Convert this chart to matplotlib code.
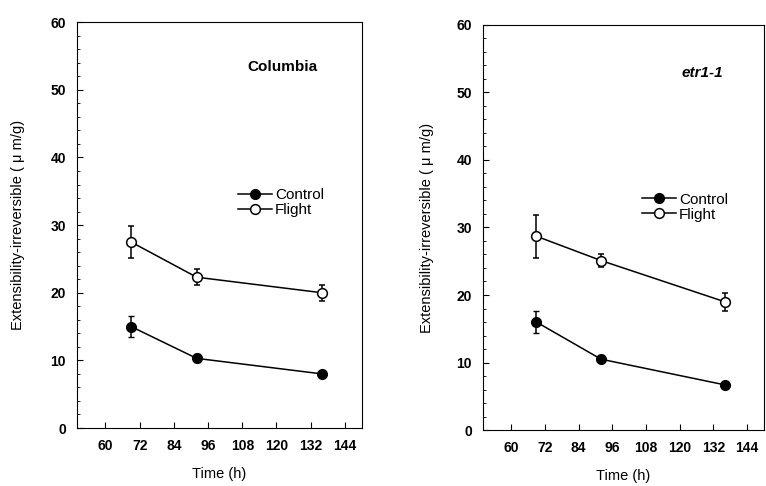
import matplotlib
matplotlib.use("Agg")
import matplotlib.pyplot as plt
from matplotlib.ticker import MultipleLocator

plt.rcParams['font.family'] = ['Liberation Sans', 'DejaVu Sans']

hours = [69, 92, 136]
time_ticks = [60, 72, 84, 96, 108, 120, 132, 144]

# Columbia
col_control = [15.0, 10.3, 8.0]
col_control_err = [1.5, 0.6, 0.3]
col_flight = [27.5, 22.3, 20.0]
col_flight_err = [2.4, 1.2, 1.2]

# etr1-1
etr_control = [16.0, 10.5, 6.7]
etr_control_err = [1.6, 0.4, 0.3]
etr_flight = [28.7, 25.1, 19.0]
etr_flight_err = [3.2, 1.0, 1.3]

panels = [
    ("Columbia", "normal", col_control, col_control_err, col_flight, col_flight_err,
     [0.1005, 0.1193, 0.372, 0.835], (0.72, 0.89), (0.54, 0.555), 18),
    ("etr1-1", "italic", etr_control, etr_control_err, etr_flight, etr_flight_err,
     [0.6305, 0.115, 0.367, 0.834], (0.78, 0.882), (0.54, 0.55), 16),
]

fig = plt.figure(figsize=(7.66, 4.86), dpi=100)

for name, style, ctrl, ctrl_e, fl, fl_e, rect, title_pos, leg_pos, ypad in panels:
    ax = fig.add_axes(rect)
    c = ax.errorbar(hours, ctrl, yerr=ctrl_e, color='black', marker='o', markersize=7,
                    markerfacecolor='black', markeredgecolor='black', lw=1.1,
                    elinewidth=1.1, capsize=2)
    f = ax.errorbar(hours, fl, yerr=fl_e, color='black', marker='o', markersize=7,
                    markerfacecolor='white', markeredgecolor='black', markeredgewidth=1.1,
                    lw=1.1, elinewidth=1.1, capsize=2)
    ax.set_xlim(50, 150)
    ax.set_ylim(0, 60)
    ax.set_xticks(time_ticks)
    ax.yaxis.set_major_locator(MultipleLocator(10))
    ax.yaxis.set_minor_locator(MultipleLocator(2))
    ax.tick_params(axis='both', which='both', direction='in', labelsize=10)
    ax.tick_params(axis='both', which='major', length=4, pad=8)
    ax.tick_params(axis='y', which='minor', length=2)
    for lbl in ax.get_xticklabels() + ax.get_yticklabels():
        lbl.set_fontweight('bold')
    ax.set_xlabel('Time (h)', fontsize=10.5, labelpad=10)
    ax.set_ylabel('Extensibility-irreversible ( \u03bc m/g)', fontsize=10.5, labelpad=ypad)
    ax.text(title_pos[0], title_pos[1], name, transform=ax.transAxes, ha='center',
            va='center', fontsize=11, fontweight='bold', fontstyle=style)
    ax.legend([c.lines[0], f.lines[0]], ['Control', 'Flight'], loc='center left',
              bbox_to_anchor=leg_pos, frameon=False, fontsize=11,
              handlelength=2.2, handletextpad=0.2, labelspacing=0.05, borderpad=0)

fig.savefig('out.png', dpi=100)
